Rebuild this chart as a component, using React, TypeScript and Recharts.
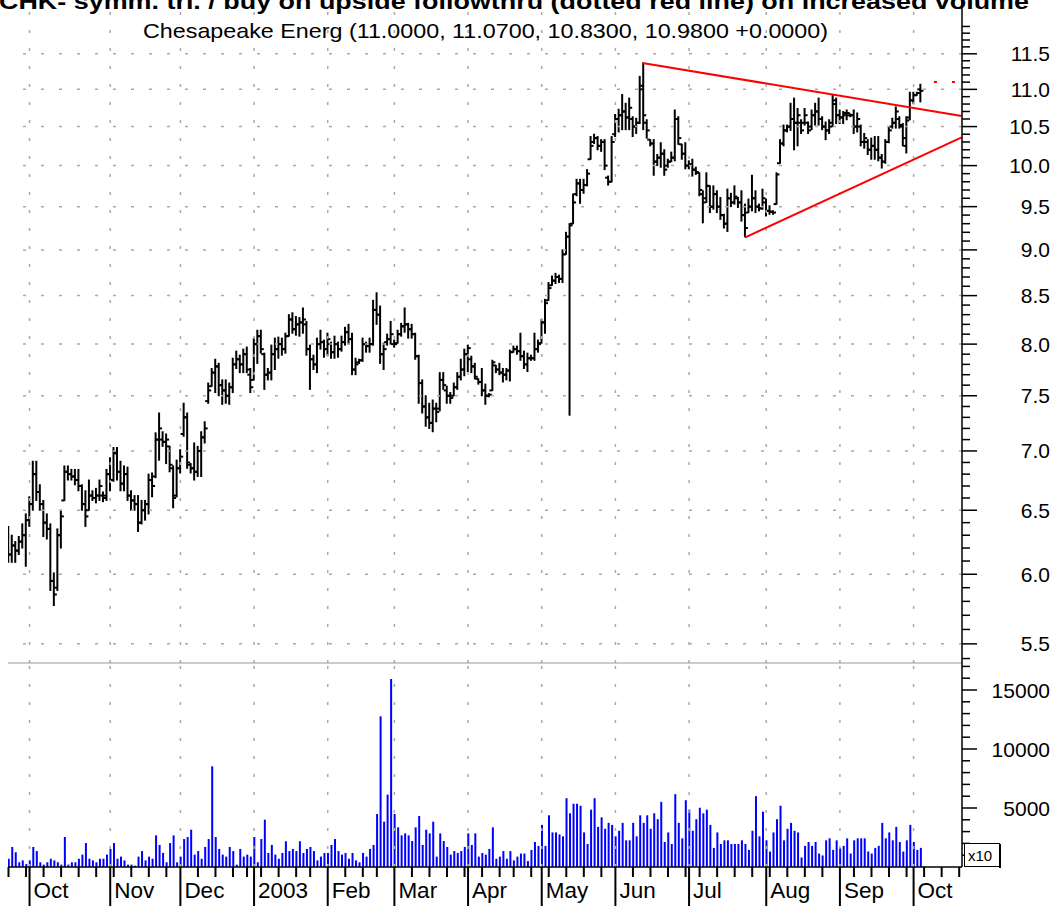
import React from 'react';
import { ComposedChart, Bar, XAxis, YAxis, ReferenceLine } from 'recharts';

// daily bars, [open, high, low, close], one array per month
const sep02 = [
  [6.20, 6.37, 6.09, 6.15], [6.15, 6.30, 6.09, 6.22], [6.22, 6.25, 6.09, 6.18], [6.18, 6.29, 6.15, 6.25], [6.25, 6.39, 6.20, 6.30],
  [6.30, 6.47, 6.06, 6.42],
];
const oct02 = [
  [6.42, 6.61, 6.37, 6.55], [6.55, 6.91, 6.50, 6.80], [6.80, 6.91, 6.58, 6.65], [6.65, 6.71, 6.50, 6.55], [6.55, 6.58, 6.29, 6.40],
  [6.40, 6.47, 6.27, 6.35], [6.35, 6.39, 5.88, 5.95], [5.95, 6.01, 5.77, 5.85], [5.90, 6.35, 5.88, 6.30], [6.30, 6.50, 6.20, 6.45],
  [6.58, 6.87, 6.58, 6.82], [6.82, 6.87, 6.75, 6.80], [6.80, 6.84, 6.75, 6.78], [6.78, 6.84, 6.71, 6.75], [6.75, 6.84, 6.66, 6.70],
  [6.70, 6.71, 6.50, 6.55], [6.55, 6.66, 6.37, 6.45], [6.50, 6.75, 6.50, 6.62], [6.62, 6.66, 6.58, 6.60], [6.60, 6.68, 6.56, 6.62],
  [6.62, 6.75, 6.58, 6.70], [6.62, 6.65, 6.57, 6.60], [6.62, 6.84, 6.58, 6.80],
];
const nov02 = [
  [6.80, 6.94, 6.66, 6.75], [6.75, 7.03, 6.74, 6.98], [6.98, 7.03, 6.75, 6.82], [6.82, 6.91, 6.66, 6.72], [6.72, 6.87, 6.66, 6.80],
  [6.80, 6.86, 6.58, 6.62], [6.62, 6.66, 6.50, 6.58], [6.58, 6.62, 6.50, 6.55], [6.55, 6.62, 6.33, 6.40], [6.40, 6.58, 6.39, 6.50],
  [6.50, 6.58, 6.42, 6.55], [6.55, 6.80, 6.47, 6.75], [6.75, 6.81, 6.61, 6.70], [6.78, 7.16, 6.77, 7.10], [7.10, 7.34, 6.92, 7.20],
  [7.10, 7.17, 7.04, 7.08], [7.08, 7.15, 6.89, 7.10], [7.04, 7.04, 6.82, 6.88], [6.85, 6.87, 6.52, 6.60], [6.62, 6.92, 6.61, 6.85],
];
const dec02 = [
  [6.85, 7.01, 6.81, 6.95], [7.15, 7.43, 7.13, 7.30], [7.30, 7.34, 6.85, 6.90], [6.88, 6.89, 6.81, 6.85], [6.85, 7.07, 6.75, 6.82],
  [6.82, 7.04, 6.78, 7.00], [7.00, 7.17, 6.78, 7.12], [7.12, 7.26, 7.07, 7.20], [7.45, 7.62, 7.43, 7.55], [7.59, 7.76, 7.59, 7.72],
  [7.72, 7.85, 7.53, 7.78], [7.78, 7.81, 7.50, 7.60], [7.60, 7.65, 7.42, 7.55], [7.55, 7.65, 7.43, 7.50], [7.50, 7.62, 7.42, 7.58],
  [7.58, 7.86, 7.53, 7.80], [7.80, 7.93, 7.76, 7.85], [7.85, 7.89, 7.72, 7.80], [7.80, 7.95, 7.72, 7.90], [7.90, 7.97, 7.72, 7.75],
  [7.70, 7.76, 7.53, 7.58],
];
const jan03 = [
  [7.65, 8.06, 7.65, 8.00], [8.00, 8.14, 7.81, 8.08], [8.08, 8.14, 7.91, 7.95], [7.90, 7.91, 7.56, 7.70], [7.70, 7.76, 7.65, 7.72],
  [7.72, 7.99, 7.65, 7.90], [7.90, 8.06, 7.75, 7.95], [7.95, 8.07, 7.86, 8.00], [8.00, 8.06, 7.89, 7.95], [7.95, 8.11, 7.91, 8.08],
  [8.08, 8.30, 8.08, 8.25], [8.25, 8.32, 8.11, 8.15], [8.15, 8.28, 8.09, 8.20], [8.20, 8.27, 8.08, 8.22], [8.22, 8.37, 8.11, 8.25],
  [8.20, 8.23, 7.89, 7.95], [7.95, 7.99, 7.56, 7.85], [7.85, 7.89, 7.75, 7.80], [7.80, 8.06, 7.72, 8.00], [8.00, 8.14, 7.95, 8.02],
  [8.02, 8.04, 7.87, 7.95],
];
const feb03 = [
  [7.95, 8.11, 7.89, 8.05], [8.00, 8.02, 7.86, 7.92], [7.92, 8.08, 7.86, 8.00], [8.00, 8.02, 7.87, 7.95], [7.95, 8.08, 7.93, 8.02],
  [8.02, 8.17, 7.99, 8.12], [8.12, 8.20, 8.00, 8.05], [8.05, 8.11, 7.70, 7.75], [7.75, 7.86, 7.70, 7.80], [7.82, 7.85, 7.81, 7.84],
  [7.84, 8.06, 7.83, 8.00], [8.00, 8.02, 7.92, 7.98], [7.98, 8.06, 7.92, 8.00], [8.00, 8.45, 7.99, 8.35], [8.35, 8.53, 8.20, 8.30],
  [8.30, 8.39, 7.81, 7.90], [7.90, 8.01, 7.75, 7.95], [8.02, 8.10, 7.99, 8.05], [8.05, 8.23, 8.00, 8.10],
];
const mar03 = [
  [8.00, 8.04, 7.97, 8.00], [8.01, 8.14, 8.01, 8.10], [8.10, 8.21, 8.08, 8.18], [8.18, 8.37, 8.12, 8.20], [8.20, 8.21, 8.06, 8.15],
  [8.15, 8.20, 8.06, 8.10], [8.10, 8.11, 7.85, 7.88], [7.88, 7.89, 7.43, 7.62], [7.62, 7.65, 7.34, 7.40], [7.40, 7.50, 7.22, 7.30],
  [7.30, 7.43, 7.20, 7.25], [7.25, 7.46, 7.17, 7.38], [7.38, 7.43, 7.26, 7.35], [7.38, 7.72, 7.36, 7.65], [7.65, 7.72, 7.56, 7.60],
  [7.55, 7.59, 7.43, 7.50], [7.50, 7.53, 7.43, 7.48], [7.50, 7.62, 7.50, 7.58], [7.58, 7.72, 7.56, 7.68], [7.68, 7.85, 7.65, 7.75],
  [7.75, 7.95, 7.69, 7.90],
];
const apr03 = [
  [7.90, 7.99, 7.73, 7.96], [7.85, 7.88, 7.72, 7.78], [7.78, 7.81, 7.66, 7.68], [7.66, 7.66, 7.61, 7.63], [7.63, 7.76, 7.50, 7.55],
  [7.55, 7.61, 7.42, 7.50], [7.50, 7.52, 7.49, 7.51], [7.55, 7.84, 7.55, 7.82], [7.79, 7.79, 7.72, 7.75], [7.75, 7.81, 7.70, 7.72],
  [7.72, 7.76, 7.63, 7.70], [7.70, 7.76, 7.65, 7.74], [7.74, 7.94, 7.64, 7.92], [7.92, 7.98, 7.92, 7.95], [7.95, 7.98, 7.90, 7.93],
  [7.93, 8.11, 7.84, 7.88], [7.88, 7.93, 7.76, 7.80], [7.80, 7.91, 7.73, 7.86], [7.86, 7.89, 7.84, 7.86], [7.86, 8.11, 7.84, 7.95],
  [7.95, 8.04, 7.92, 8.00],
];
const may03 = [
  [8.01, 8.25, 8.01, 8.22], [8.22, 8.46, 8.11, 8.42], [8.45, 8.64, 8.45, 8.58], [8.61, 8.71, 8.61, 8.66], [8.66, 8.74, 8.63, 8.70],
  [8.70, 8.72, 8.64, 8.68], [8.68, 9.00, 8.64, 8.95], [8.95, 9.20, 8.95, 9.15], [9.15, 9.30, 7.32, 9.28], [9.30, 9.65, 9.30, 9.55],
  [9.65, 9.83, 9.63, 9.78], [9.78, 9.83, 9.54, 9.70], [9.70, 9.83, 9.66, 9.76], [9.76, 9.95, 9.75, 9.90], [10.08, 10.37, 10.08, 10.25],
  [10.30, 10.40, 10.28, 10.35], [10.35, 10.37, 10.20, 10.25], [10.25, 10.33, 10.18, 10.30], [10.30, 10.33, 9.95, 10.00], [9.85, 9.87, 9.76, 9.80],
  [9.80, 10.37, 9.80, 10.30],
];
const jun03 = [
  [10.40, 10.66, 10.37, 10.60], [10.60, 10.73, 10.43, 10.65], [10.65, 10.93, 10.46, 10.70], [10.70, 10.81, 10.46, 10.62], [10.62, 10.88, 10.46, 10.75],
  [10.60, 10.63, 10.37, 10.50], [10.50, 10.61, 10.41, 10.55], [10.55, 11.18, 10.54, 11.00], [11.05, 11.37, 10.46, 10.65], [10.55, 10.59, 10.35, 10.45],
  [10.33, 10.33, 10.25, 10.28], [10.28, 10.33, 9.88, 10.05], [10.05, 10.14, 10.00, 10.10], [10.10, 10.29, 9.98, 10.15], [10.15, 10.20, 9.88, 9.95],
  [10.00, 10.08, 9.98, 10.05], [10.05, 10.17, 10.05, 10.10], [10.10, 10.72, 10.06, 10.60], [10.60, 10.63, 10.27, 10.35], [10.27, 10.27, 10.08, 10.15],
  [10.15, 10.29, 9.96, 10.00],
];
const jul03 = [
  [10.00, 10.06, 9.96, 10.02], [10.02, 10.08, 9.87, 9.95], [9.95, 9.98, 9.89, 9.92], [9.91, 9.91, 9.63, 9.70], [9.65, 9.69, 9.31, 9.55],
  [9.60, 9.91, 9.55, 9.75], [9.75, 9.75, 9.43, 9.50], [9.50, 9.75, 9.47, 9.65], [9.65, 9.69, 9.43, 9.50], [9.50, 9.61, 9.35, 9.40],
  [9.40, 9.41, 9.25, 9.30], [9.30, 9.71, 9.21, 9.60], [9.60, 9.66, 9.50, 9.55], [9.55, 9.75, 9.53, 9.62], [9.60, 9.61, 9.49, 9.55],
  [9.55, 9.69, 9.33, 9.40], [9.40, 9.53, 9.15, 9.25], [9.43, 9.59, 9.43, 9.50], [9.50, 9.88, 9.45, 9.60], [9.60, 9.69, 9.43, 9.50],
  [9.50, 9.53, 9.45, 9.48], [9.48, 9.71, 9.47, 9.60],
];
const aug03 = [
  [9.55, 9.59, 9.39, 9.45], [9.45, 9.51, 9.41, 9.44], [9.44, 9.45, 9.41, 9.43], [9.53, 9.91, 9.53, 9.89], [10.03, 10.33, 10.03, 10.28],
  [10.28, 10.52, 10.25, 10.45], [10.45, 10.52, 10.43, 10.50], [10.50, 10.81, 10.45, 10.60], [10.60, 10.88, 10.20, 10.55], [10.55, 10.74, 10.25, 10.65],
  [10.55, 10.59, 10.41, 10.45], [10.55, 10.74, 10.52, 10.65], [10.55, 10.56, 10.41, 10.45], [10.50, 10.72, 10.46, 10.65], [10.65, 10.81, 10.52, 10.70],
  [10.70, 10.88, 10.52, 10.60], [10.60, 10.63, 10.46, 10.50], [10.50, 10.56, 10.33, 10.45], [10.45, 10.59, 10.41, 10.50], [10.55, 10.92, 10.50, 10.85],
  [10.80, 10.88, 10.54, 10.65],
];
const sep03 = [
  [10.65, 10.72, 10.54, 10.62], [10.62, 10.70, 10.54, 10.68], [10.65, 10.72, 10.59, 10.68], [10.65, 10.67, 10.63, 10.65], [10.65, 10.72, 10.41, 10.50],
  [10.50, 10.68, 10.43, 10.60], [10.50, 10.52, 10.25, 10.30], [10.30, 10.41, 10.22, 10.35], [10.30, 10.33, 10.14, 10.20], [10.20, 10.35, 10.08, 10.25],
  [10.25, 10.37, 10.08, 10.20], [10.20, 10.37, 10.06, 10.10], [10.10, 10.14, 9.97, 10.05], [10.05, 10.33, 10.03, 10.30], [10.30, 10.50, 10.29, 10.45],
  [10.50, 10.61, 10.48, 10.55], [10.55, 10.76, 10.48, 10.70], [10.60, 10.63, 10.48, 10.52], [10.50, 10.54, 10.25, 10.35], [10.25, 10.63, 10.16, 10.58],
  [10.62, 10.96, 10.59, 10.85],
];
const oct03 = [[10.85, 10.96, 10.81, 10.92], [10.92, 10.96, 10.92, 10.95], [11.00, 11.07, 10.83, 10.98]];

// volume (shares / 10), same days
const volSep02 = [700, 1700, 1250, 400, 560, 250];
const volOct02 = [560, 1700, 1350, 400, 200, 400, 700, 560, 400, 200, 2540, 200, 400, 400, 700, 1050, 2030, 700, 560, 400, 700, 700, 1050];
const volNov02 = [1530, 2030, 700, 880, 560, 200, 200, 110, 880, 1350, 560, 880, 700, 2680, 1870, 1190, 400, 2030, 2680, 400];
const volDec02 = [880, 2370, 2540, 3160, 1050, 1350, 700, 1700, 2370, 8530, 2540, 1530, 1050, 880, 1700, 1350, 200, 1530, 880, 1050, 880];
const volJan03 = [2540, 400, 2370, 4010, 1190, 1870, 1050, 700, 1190, 2180, 1350, 1530, 1350, 2180, 1190, 1530, 1700, 1350, 560, 880, 1190];
const volFeb03 = [1190, 1870, 2370, 1350, 1050, 1190, 700, 1190, 560, 400, 1190, 880, 1530, 1870, 4490, 12770, 3840, 6130, 15930];
const volMar03 = [4490, 3360, 2680, 2850, 2680, 2200, 3360, 4320, 1870, 3160, 2850, 3840, 880, 2850, 2200, 1700, 1050, 1350, 1190, 1350, 1700];
const volApr03 = [2850, 1870, 2850, 880, 1190, 1050, 1530, 3360, 700, 880, 1350, 700, 1350, 560, 880, 1140, 1140, 500, 1450, 2120, 1790];
const volMay03 = [3570, 1790, 4380, 2930, 2930, 2760, 2600, 5830, 4550, 5360, 5360, 5190, 2930, 1950, 4860, 5830, 3400, 4210, 3240, 3740, 3570];
const volJun03 = [2600, 3070, 3740, 2260, 2260, 3740, 2600, 4380, 3740, 4380, 3240, 4550, 4050, 5520, 2120, 2930, 1950, 6170, 3740, 2430, 5660];
const volJul03 = [4860, 3070, 4050, 5020, 4550, 4860, 3570, 1620, 2930, 1950, 2260, 2260, 1950, 1950, 1950, 2260, 1950, 1450, 3070, 6000, 2600, 4690];
const volAug03 = [2260, 1310, 2930, 4050, 5190, 2260, 3240, 3740, 3070, 2930, 810, 1790, 2120, 1790, 2120, 1140, 980, 2260, 2430, 1450, 2260];
const volSep03 = [1620, 1790, 2430, 1140, 2260, 2430, 2430, 2430, 1310, 1140, 1620, 1790, 3740, 2430, 2930, 2260, 3400, 2120, 1310, 2260, 3570];
const volOct03 = [2120, 1450, 1620];

// axis: trading-day index of month starts and week starts
const monthTickIdx = [6, 29, 49, 70, 91, 110, 131, 152, 173, 194, 216, 237, 258];
const monthLabels = ['Oct', 'Nov', 'Dec', '2003', 'Feb', 'Mar', 'Apr', 'May', 'Jun', 'Jul', 'Aug', 'Sep', 'Oct'];
const weekTickIdx = [0, 5, 10, 15, 20, 25, 30, 35, 40, 45, 49, 54, 59, 64, 68, 72, 77, 82, 86, 91, 96, 101, 105, 110, 115,
  120, 125, 130, 135, 140, 144, 149, 154, 159, 164, 169, 173, 178, 183, 188, 193, 197, 202, 207, 212, 217, 222, 227, 232,
  237, 241, 246, 251, 256, 261, 266, 271];
const priceLabels = [5.5, 6, 6.5, 7, 7.5, 8, 8.5, 9, 9.5, 10, 10.5, 11, 11.5];
const volLabels = [5000, 10000, 15000];

// trendlines (day index, price)
const upperLine = [{ x: 180.7, y: 11.37 }, { x: 271.7, y: 10.64 }];
const lowerLine = [{ x: 209.9, y: 9.14 }, { x: 271.7, y: 10.36 }];
const breakoutLine = [{ x: 263.8, y: 11.1 }, { x: 271.7, y: 11.1 }];

const ohlc = [sep02, oct02, nov02, dec02, jan03, feb03, mar03, apr03, may03, jun03, jul03, aug03, sep03, oct03].flat();
const vols = [volSep02, volOct02, volNov02, volDec02, volJan03, volFeb03, volMar03, volApr03, volMay03, volJun03,
  volJul03, volAug03, volSep03, volOct03].flat();
const rows = ohlc.map((b, i) => ({ i, open: b[0], high: b[1], low: b[2], close: b[3], range: [b[2], b[1]], vol: vols[i] }));

const minorPrice: number[] = [];
for (let k = 54; k <= 120; k++) if (k % 5 !== 0) minorPrice.push(k / 10);
const priceTicks = [...priceLabels, ...minorPrice].sort((a, b) => a - b);
const volTicks: number[] = [];
for (let v = 1000; v <= 17000; v += 1000) volTicks.push(v);

const X_DOMAIN: [number, number] = [-0.14, 271.8];
const FONT = '"Liberation Sans", Arial, Helvetica, sans-serif';
const GRID = '#aaaaaa';

const OhlcBar = (props: any) => {
  const { x, y, width, height, payload } = props;
  if (x == null || y == null || !payload) return null;
  const top = Math.min(y, y + height);
  const h = Math.abs(height);
  const cx = x + width / 2;
  const lh = Math.log(payload.high);
  const span = lh - Math.log(payload.low) || 1;
  const yo = top + (h * (lh - Math.log(payload.open))) / span;
  const yc = top + (h * (lh - Math.log(payload.close))) / span;
  return (
    <g stroke="#000" strokeWidth={2}>
      <line x1={cx} x2={cx} y1={top - 0.5} y2={top + h + 0.5} />
      <line x1={cx - 3} x2={cx} y1={yo} y2={yo} />
      <line x1={cx} x2={cx + 3} y1={yc} y2={yc} />
    </g>
  );
};

const PriceTick = (props: any) => {
  const { x, y, payload } = props;
  const v = payload.value;
  const major = priceLabels.some((p) => Math.abs(p - v) < 1e-6);
  return (
    <g>
      <line x1={x} x2={x + (major ? 15 : 8)} y1={y} y2={y} stroke="#000" strokeWidth={1.5} />
      {major && (
        <text x={x + 88} y={y} dy="0.36em" textAnchor="end" fontSize={21} fill="#000" fontFamily={FONT}>
          {v.toFixed(1)}
        </text>
      )}
    </g>
  );
};

const VolTick = (props: any) => {
  const { x, y, payload } = props;
  const major = volLabels.includes(payload.value);
  return (
    <g>
      <line x1={x} x2={x + (major ? 15 : 8)} y1={y} y2={y} stroke="#000" strokeWidth={1.5} />
      {major && (
        <text x={x + 88} y={y} dy="0.36em" textAnchor="end" fontSize={21} fill="#000" fontFamily={FONT}>
          {payload.value}
        </text>
      )}
    </g>
  );
};

const DateTick = (props: any) => {
  const { x, y, payload } = props;
  const m = monthTickIdx.indexOf(payload.value);
  if (m >= 0) {
    return (
      <g>
        <line x1={x} x2={x} y1={y} y2={y + 40} stroke="#000" strokeWidth={2} />
        <text x={x + 4} y={y + 31} fontSize={22.5} fill="#000" fontFamily={FONT}>{monthLabels[m]}</text>
      </g>
    );
  }
  return <line x1={x} x2={x} y1={y} y2={y + 10} stroke="#000" strokeWidth={2} />;
};

const dateTicks = Array.from(new Set([...weekTickIdx, ...monthTickIdx])).sort((a, b) => a - b);

export default function App() {
  return (
    <div style={{ position: 'absolute', left: 0, top: 0, width: 1061, height: 906, background: '#fff', fontFamily: FONT, overflow: 'hidden' }}>
      <div style={{ position: 'absolute', left: 0, top: 0 }}>
        <ComposedChart width={1061} height={664} data={rows} margin={{ top: 0, right: 0, bottom: 0, left: 8 }}>
          <XAxis type="number" dataKey="i" domain={X_DOMAIN} allowDataOverflow height={1} tick={false} tickLine={false}
            axisLine={{ stroke: '#999', strokeWidth: 1 }} />
          <YAxis type="number" scale="log" orientation="right" width={99} domain={[5.37, 12.3]} allowDataOverflow
            ticks={priceTicks} interval={0} tickSize={0} tickMargin={0} tickLine={false} tick={<PriceTick />}
            axisLine={{ stroke: '#000', strokeWidth: 1.5 }} />
          {priceLabels.map((p) => (
            <ReferenceLine key={'h' + p} y={p} stroke={GRID} strokeWidth={1.5} strokeDasharray="3 15" />
          ))}
          {monthTickIdx.map((m) => (
            <ReferenceLine key={'v' + m} x={m} stroke={GRID} strokeWidth={1.5} strokeDasharray="3 15" />
          ))}
          <Bar dataKey="range" barSize={3} shape={<OhlcBar />} isAnimationActive={false} />
          <ReferenceLine segment={upperLine} stroke="#ff0000" strokeWidth={2} />
          <ReferenceLine segment={lowerLine} stroke="#ff0000" strokeWidth={2} />
          <ReferenceLine segment={breakoutLine} stroke="#ff0000" strokeWidth={2} strokeDasharray="3 15" />
        </ComposedChart>
      </div>
      <div style={{ position: 'absolute', left: 0, top: 663 }}>
        <ComposedChart width={1061} height={243} data={rows} margin={{ top: 0, right: 0, bottom: 0, left: 8 }}>
          <XAxis type="number" dataKey="i" domain={X_DOMAIN} allowDataOverflow height={39} ticks={dateTicks} interval={0}
            tickSize={0} tickMargin={0} tickLine={false} tick={<DateTick />} axisLine={{ stroke: '#000', strokeWidth: 1.5 }} />
          <YAxis type="number" orientation="right" width={99} domain={[0, 17288]} allowDataOverflow ticks={volTicks}
            interval={0} tickSize={0} tickMargin={0} tickLine={false} tick={<VolTick />} axisLine={{ stroke: '#000', strokeWidth: 1.5 }} />
          {monthTickIdx.map((m) => (
            <ReferenceLine key={'vv' + m} x={m} stroke={GRID} strokeWidth={1.5} strokeDasharray="3 15" />
          ))}
          <Bar dataKey="vol" fill="#0000ff" barSize={2} isAnimationActive={false} />
        </ComposedChart>
      </div>
      <svg width={1061} height={906} style={{ position: 'absolute', left: 0, top: 0, pointerEvents: 'none' }}>
        <text x={-1} y={9} fontSize={22} fontWeight="bold" fill="#000" fontFamily={FONT} textLength={1030} lengthAdjust="spacingAndGlyphs">
          CHK- symm. tri. / buy on upside followthru (dotted red line) on increased volume
        </text>
        <text x={143} y={38} fontSize={21} fill="#000" fontFamily={FONT} textLength={685} lengthAdjust="spacingAndGlyphs">
          Chesapeake Energ (11.0000, 11.0700, 10.8300, 10.9800 +0.0000)
        </text>
        <rect x={964.5} y={843.5} width={35} height={23} fill="#fff" stroke="#000" strokeWidth={1} />
        <line x1={1000} x2={1000} y1={844} y2={868} stroke="#000" strokeWidth={2} />
        <text x={968} y={861} fontSize={15} fill="#000" fontFamily={FONT}>x10</text>
      </svg>
    </div>
  );
}
